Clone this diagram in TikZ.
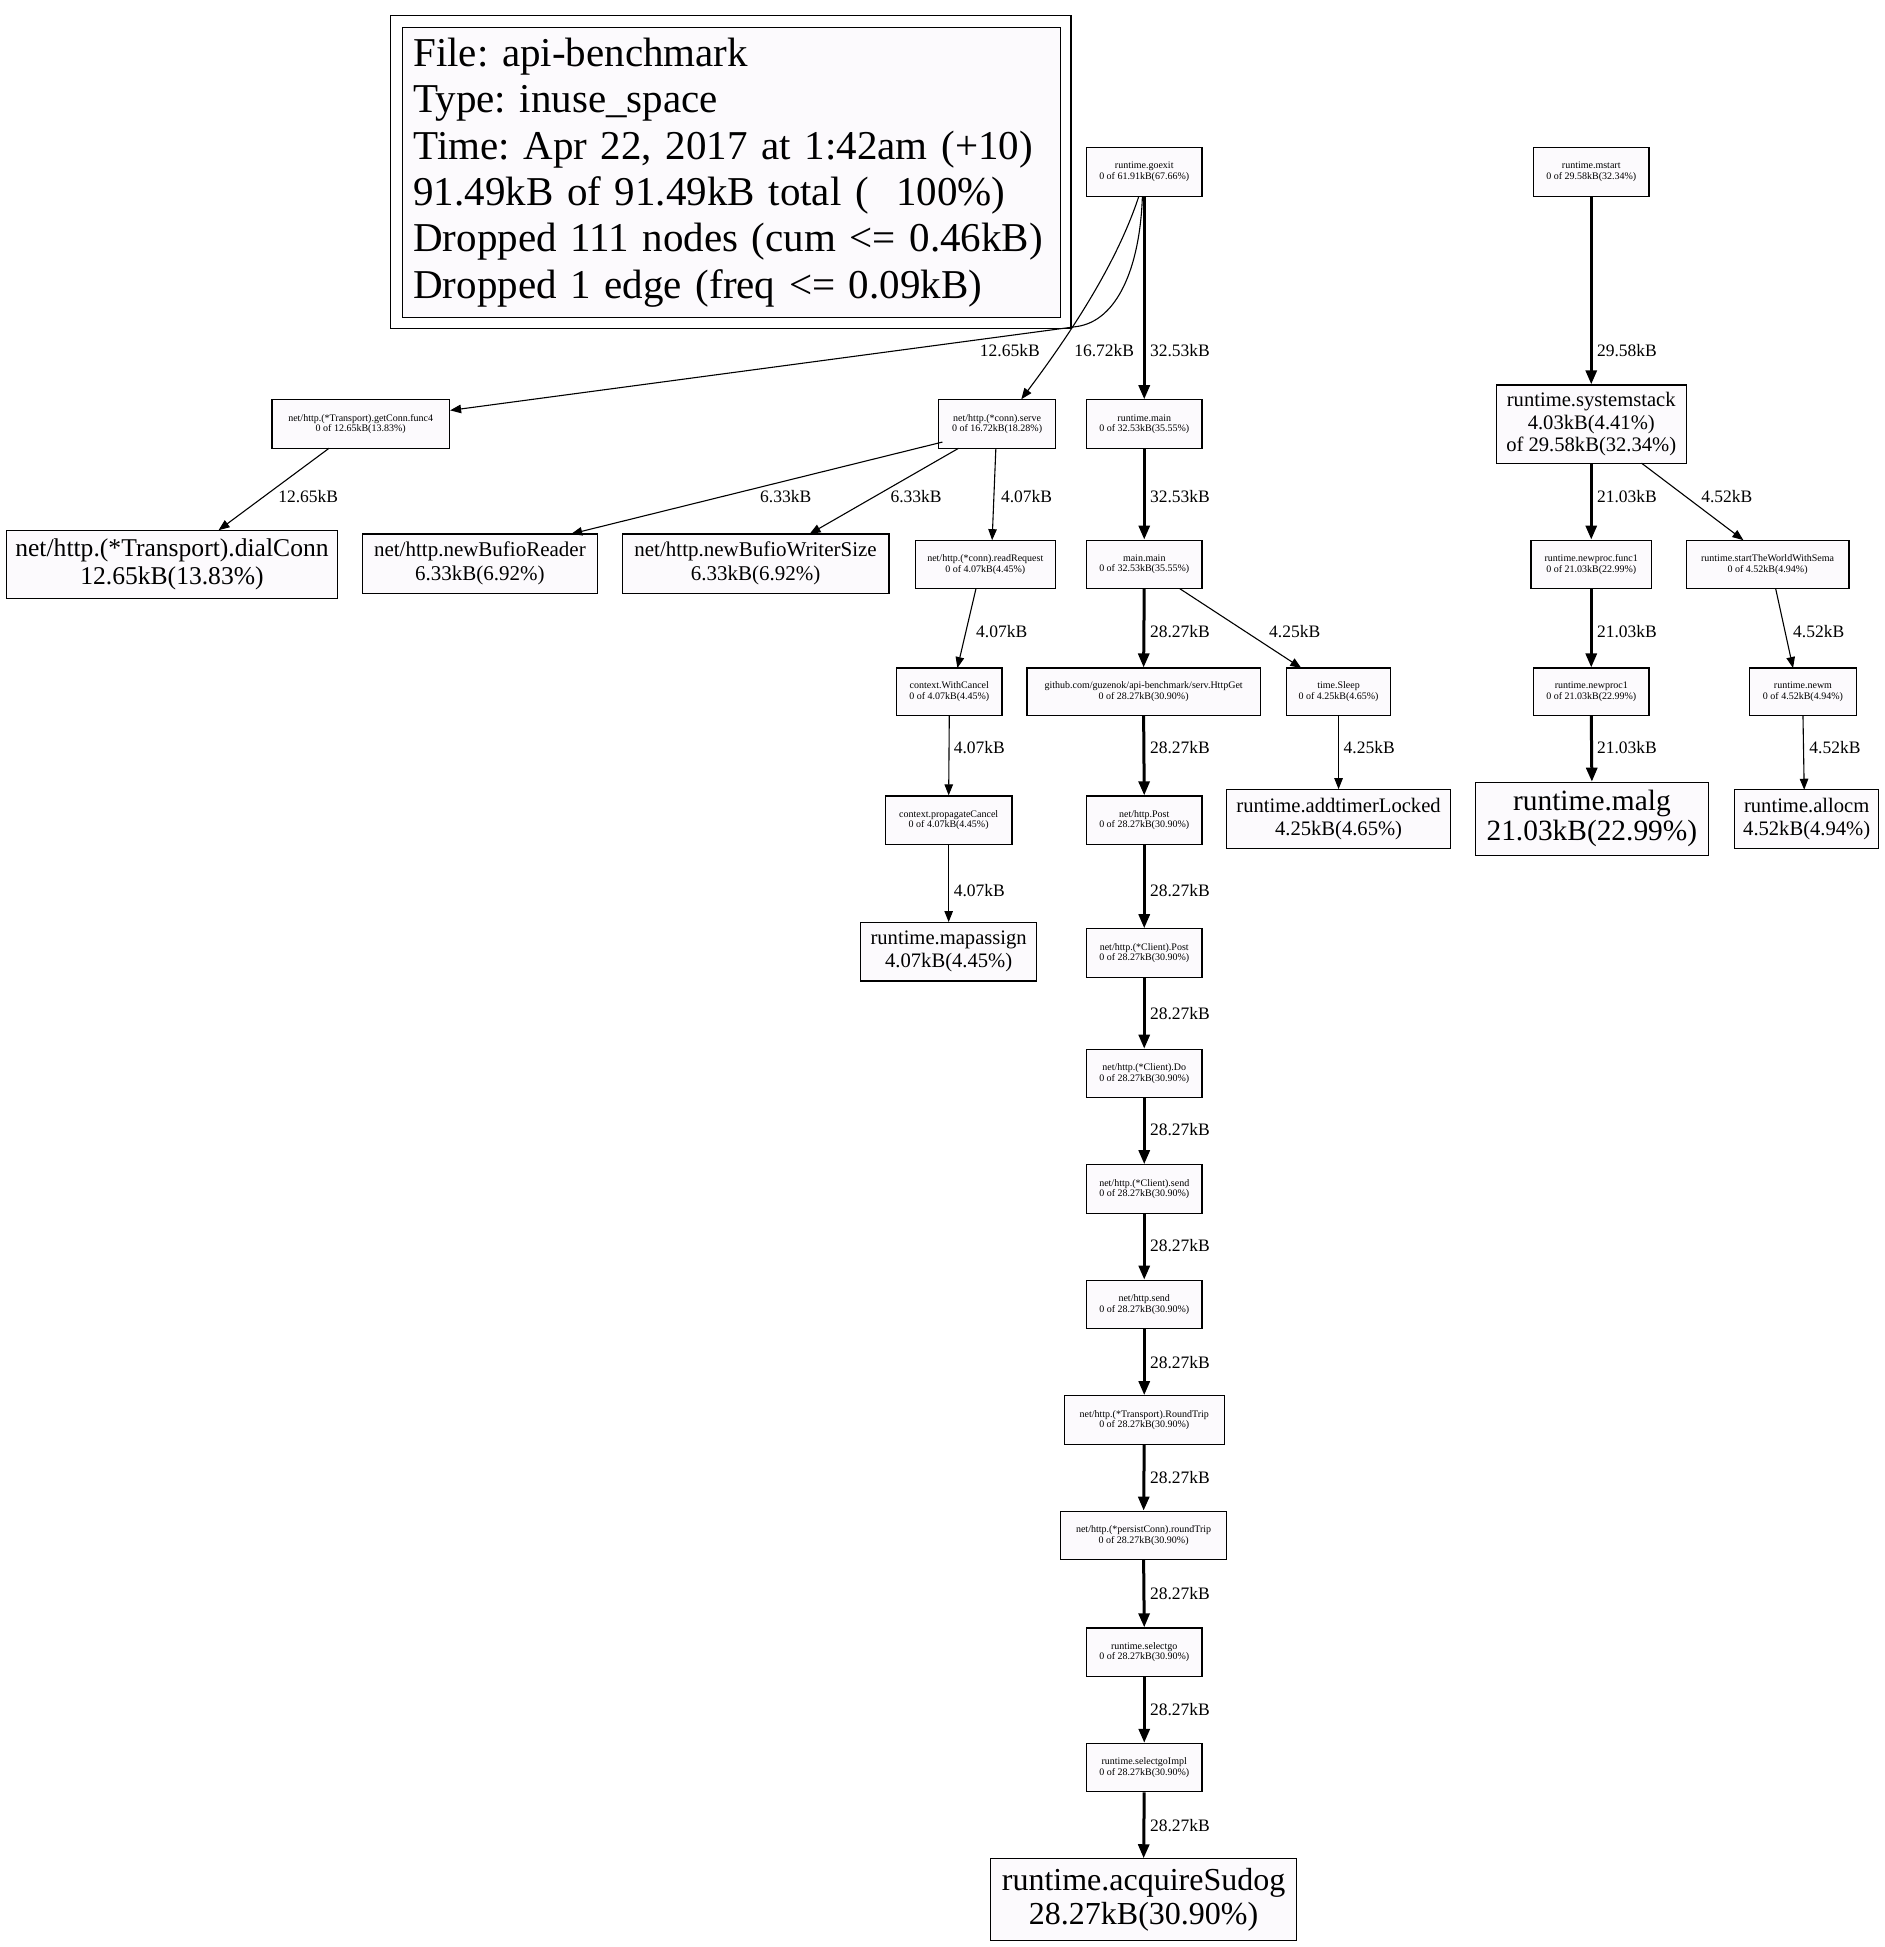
\documentclass[tikz,border=0pt]{standalone}
\usepackage{fontspec}
\setmainfont{Liberation Serif}
\usetikzlibrary{arrows.meta,calc}
\definecolor{nfill}{RGB}{252,250,253}
\newcommand\pxu{1.2418pt}
\frenchspacing
\begin{document}
\begin{tikzpicture}[x=1.2418pt,y=-1.2418pt,
  box/.style n args={2}{draw, fill=nfill, line width=1.2pt, inner sep=0pt,
     minimum width=#1*\pxu, minimum height=#2*\pxu, align=center},
  fs/.style n args={2}{font=\fontsize{#1}{#2}\selectfont},
  small/.style={fs={10}{10.5}},
  mid/.style={fs={20.6}{23}},
  lab/.style={anchor=west, inner sep=0pt, fs={17.5}{18}},
  edg/.style={line width=1.1pt, -{Triangle[length=11pt,width=8.5pt]}},
  edgh/.style={line width=3pt, -{Triangle[length=14pt,width=11pt]}},
]
\useasboundingbox[fill=white] (0,0) rectangle (1518,1568);

% legend
\node[box={530}{234}, fs={41}{46.4}, inner xsep=11pt, text width=636pt, align=left] (legend) at (589,139)
 {\mbox{File: api-benchmark}\\
  \mbox{Type: inuse\_space}\\
  \mbox{Time: Apr 22, 2017 at 1:42am (+10)}\\
  \mbox{91.49kB of 91.49kB total (\ \ 100\%)}\\
  \mbox{Dropped 111 nodes (cum <= 0.46kB)}\\
  \mbox{Dropped 1 edge (freq <= 0.09kB)}};
\draw[line width=1.2pt] ($(legend.north west)+(-9,-9)$) rectangle ($(legend.south east)+(8,8)$);

% nodes
\node[box={93}{39}, small] (goexit) at (921.5,138.5) {runtime.goexit\\0 of 61.91kB(67.66\%)};
\node[box={93}{39}, small] (mstart) at (1281.5,138.5) {runtime.mstart\\0 of 29.58kB(32.34\%)};
\node[box={143}{39}, small] (getconn) at (290.5,341.5) {net/http.(*Transport).getConn.func4\\0 of 12.65kB(13.83\%)};
\node[box={94}{39}, small] (serve) at (803,341.5) {net/http.(*conn).serve\\0 of 16.72kB(18.28\%)};
\node[box={93}{39}, small] (rmain) at (921.5,341.5) {runtime.main\\0 of 32.53kB(35.55\%)};
\node[box={153}{63}, fs={20.6}{22.4}] (sysstack) at (1281.5,341.5) {runtime.systemstack\\4.03kB(4.41\%)\\of 29.58kB(32.34\%)};
\node[box={267}{55}, fs={25.6}{27.3}] (dialconn) at (138.5,454.5) {net/http.(*Transport).dialConn\\12.65kB(13.83\%)};
\node[box={189}{48}, fs={21}{24}] (bufr) at (386.5,454) {net/http.newBufioReader\\6.33kB(6.92\%)};
\node[box={215}{48}, fs={21}{24}] (bufw) at (608.5,454) {net/http.newBufioWriterSize\\6.33kB(6.92\%)};
\node[box={113}{39}, small] (readreq) at (793.5,454.5) {net/http.(*conn).readRequest\\0 of 4.07kB(4.45\%)};
\node[box={93}{39}, small] (mainmain) at (921.5,454.5) {main.main\\0 of 32.53kB(35.55\%)};
\node[box={97}{39}, small] (npf) at (1281.5,454.5) {runtime.newproc.func1\\0 of 21.03kB(22.99\%)};
\node[box={131}{39}, small] (stw) at (1423.5,454.5) {runtime.startTheWorldWithSema\\0 of 4.52kB(4.94\%)};
\node[box={85}{38}, small] (wcancel) at (764.5,557) {context.WithCancel\\0 of 4.07kB(4.45\%)};
\node[box={188}{38}, small] (httpget) at (921,557) {github.com/guzenok/api-benchmark/serv.HttpGet\\0 of 28.27kB(30.90\%)};
\node[box={84}{38}, small] (sleep) at (1078,557) {time.Sleep\\0 of 4.25kB(4.65\%)};
\node[box={93}{38}, small] (nproc1) at (1281.5,557) {runtime.newproc1\\0 of 21.03kB(22.99\%)};
\node[box={86}{38}, small] (newm) at (1452,557) {runtime.newm\\0 of 4.52kB(4.94\%)};
\node[box={102}{39}, small] (propc) at (764,660.5) {context.propagateCancel\\0 of 4.07kB(4.45\%)};
\node[box={93}{39}, small] (post) at (921.5,660.5) {net/http.Post\\0 of 28.27kB(30.90\%)};
\node[box={180}{47}, mid] (addtimer) at (1078,659.5) {runtime.addtimerLocked\\4.25kB(4.65\%)};
\node[box={188}{59}, fs={29.4}{30}] (malg) at (1282,659.5) {runtime.malg\\21.03kB(22.99\%)};
\node[box={116}{47}, mid] (allocm) at (1455,659.5) {runtime.allocm\\4.52kB(4.94\%)};
\node[box={142}{47}, mid] (mapassign) at (764,766.5) {runtime.mapassign\\4.07kB(4.45\%)};
\node[box={93}{39}, small] (cpost) at (921.5,767.5) {net/http.(*Client).Post\\0 of 28.27kB(30.90\%)};
\node[box={93}{39}, small] (cdo) at (921.5,864.5) {net/http.(*Client).Do\\0 of 28.27kB(30.90\%)};
\node[box={93}{39}, small] (csend) at (921.5,957.5) {net/http.(*Client).send\\0 of 28.27kB(30.90\%)};
\node[box={93}{39}, small] (hsend) at (921.5,1050.5) {net/http.send\\0 of 28.27kB(30.90\%)};
\node[box={129}{39}, small] (rtrip) at (921.5,1143.5) {net/http.(*Transport).RoundTrip\\0 of 28.27kB(30.90\%)};
\node[box={134}{39}, small] (pcrt) at (921,1236.5) {net/http.(*persistConn).roundTrip\\0 of 28.27kB(30.90\%)};
\node[box={93}{39}, small] (selgo) at (921.5,1330.5) {runtime.selectgo\\0 of 28.27kB(30.90\%)};
\node[box={93}{39}, small] (selimpl) at (921.5,1423.5) {runtime.selectgoImpl\\0 of 28.27kB(30.90\%)};
\node[box={246}{66}, fs={32}{33.5}] (sudog) at (921,1530) {runtime.acquireSudog\\28.27kB(30.90\%)};

% edges
\draw[edg] ($(goexit.south)+(-1.5,0)$) .. controls (918,215) and (900,258.5) .. (867,263) -- ($(getconn.east)+(0,-11)$);
\draw[edg] ($(goexit.south)+(-4.5,0)$) .. controls (905,195) and (880,245) .. ($(serve.north)+(19.5,0)$);
\draw[edgh] (goexit.south) -- (rmain.north);
\draw[edgh] (mstart.south) -- (sysstack.north);
\draw[edg] ($(getconn)+(-25.5,19.5)$) -- ($(dialconn)+(37.5,-27.5)$);
\draw[edg] ($(serve)+(-44,14.5)$) -- ($(bufr)+(73.5,-24)$);
\draw[edg] ($(serve)+(-31,19.5)$) -- ($(bufw)+(43.5,-24)$);
\draw[edg] ($(serve)+(-1,19.5)$) -- ($(readreq)+(5.5,-19.5)$);
\draw[edgh] (rmain.south) -- (mainmain.north);
\draw[edgh] (sysstack.south) -- (npf.north);
\draw[edg] ($(sysstack)+(40.5,31.5)$) -- ($(stw)+(-19.5,-19.5)$);
\draw[edg] ($(readreq)+(-7.5,19.5)$) -- ($(wcancel)+(6.5,-19)$);
\draw[edgh] (mainmain.south) -- (httpget.north);
\draw[edg] ($(mainmain)+(28.5,19.5)$) -- ($(sleep)+(-30,-19)$);
\draw[edgh] (npf.south) -- (nproc1.north);
\draw[edg] ($(stw)+(6.5,19.5)$) -- ($(newm)+(-8,-19)$);
\draw[edg] (wcancel.south) -- (propc.north);
\draw[edgh] (httpget.south) -- (post.north);
\draw[edg] (sleep.south) -- (addtimer.north);
\draw[edgh] (nproc1.south) -- (malg.north);
\draw[edg] ($(newm)+(0,19)$) -- ($(allocm)+(-2,-23.5)$);
\draw[edg] (propc.south) -- (mapassign.north);
\draw[edgh] (post.south) -- (cpost.north);
\draw[edgh] (cpost.south) -- (cdo.north);
\draw[edgh] (cdo.south) -- (csend.north);
\draw[edgh] (csend.south) -- (hsend.north);
\draw[edgh] (hsend.south) -- (rtrip.north);
\draw[edgh] (rtrip.south) -- (pcrt.north);
\draw[edgh] (pcrt.south) -- (selgo.north);
\draw[edgh] (selgo.south) -- (selimpl.north);
\draw[edgh] (selimpl.south) -- (sudog.north);

% edge labels
\node[lab] (l1) at (789,282) {12.65kB};
\node[lab] (l2) at (865,282) {16.72kB};
\node[lab] (l3) at (926,282) {32.53kB};
\node[lab] (l4) at (1286,282) {29.58kB};
\node[lab] (l5) at (224,400) {12.65kB};
\node[lab] (l6) at (612,400) {6.33kB};
\node[lab] (l7) at (717,400) {6.33kB};
\node[lab] (l8) at (806,400) {4.07kB};
\node[lab] (l9) at (926,400) {32.53kB};
\node[lab] (l10) at (1286,400) {21.03kB};
\node[lab] (l11) at (1370,400) {4.52kB};
\node[lab] (l12) at (786,509) {4.07kB};
\node[lab] (l13) at (926,509) {28.27kB};
\node[lab] (l14) at (1022,509) {4.25kB};
\node[lab] (l15) at (1286,509) {21.03kB};
\node[lab] (l16) at (1444,509) {4.52kB};
\node[lab] (l17) at (768,602) {4.07kB};
\node[lab] (l18) at (926,602) {28.27kB};
\node[lab] (l19) at (1082,602) {4.25kB};
\node[lab] (l20) at (1286,602) {21.03kB};
\node[lab] (l21) at (1457,602) {4.52kB};
\node[lab] (l22) at (768,717) {4.07kB};
\node[lab] (l23) at (926,717) {28.27kB};
\node[lab] (l24) at (926,816) {28.27kB};
\node[lab] (l25) at (926,910) {28.27kB};
\node[lab] (l26) at (926,1003) {28.27kB};
\node[lab] (l27) at (926,1097) {28.27kB};
\node[lab] (l28) at (926,1190) {28.27kB};
\node[lab] (l29) at (926,1283) {28.27kB};
\node[lab] (l30) at (926,1377) {28.27kB};
\node[lab] (l31) at (926,1470) {28.27kB};
\end{tikzpicture}
\end{document}
